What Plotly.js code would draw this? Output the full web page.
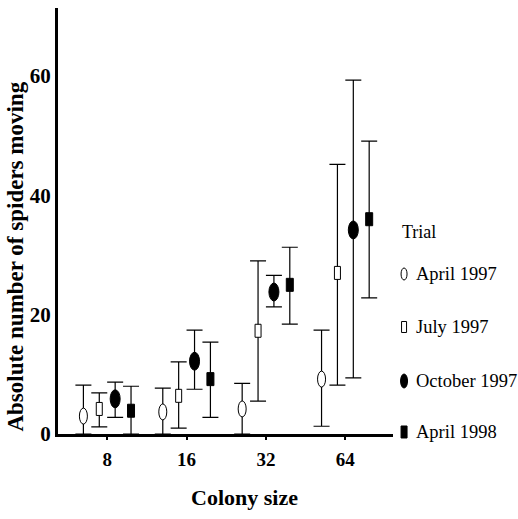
<!DOCTYPE html>
<html>
<head>
<meta charset="utf-8">
<script src="https://cdn.plot.ly/plotly-3.0.1.min.js"></script>
<style>html,body{margin:0;padding:0;background:#fff;}#chart{width:518px;height:519px;}</style>
</head>
<body>
<div id="chart"></div>
<script>
// ---- data ----
const colonySize = [8, 16, 32, 64];
const seriesNames = ['April 1997', 'July 1997', 'October 1997', 'April 1998'];

const apr1997Mean = [3.0, 3.7, 4.2, 9.2];
const apr1997Upper = [8.2, 7.7, 8.5, 17.4];
const apr1997Lower = [0, 0, 0, 1.3];

const jul1997Mean = [4.2, 6.4, 17.3, 27.0];
const jul1997Upper = [6.9, 12.1, 29.0, 45.2];
const jul1997Lower = [1.2, 1.0, 5.5, 8.2];

const oct1997Mean = [5.9, 12.2, 23.8, 34.2];
const oct1997Upper = [8.7, 17.4, 26.6, 59.3];
const oct1997Lower = [2.8, 7.5, 21.3, 9.4];

const apr1998Mean = [3.9, 9.2, 25.0, 36.0];
const apr1998Upper = [8.0, 15.4, 31.3, 49.1];
const apr1998Lower = [0, 2.8, 18.4, 22.8];

const yTicks = [0, 20, 40, 60];

// ---- styling ----
const means = [apr1997Mean, jul1997Mean, oct1997Mean, apr1998Mean];
const uppers = [apr1997Upper, jul1997Upper, oct1997Upper, apr1998Upper];
const lowers = [apr1997Lower, jul1997Lower, oct1997Lower, apr1998Lower];
const offsets = [-0.3, -0.1, 0.1, 0.3];
const styles = [
  {type: 'circle', w: 8, h: 16, fill: 'white', lw: 1, legW: 6, legH: 12},
  {type: 'rect', w: 6, h: 13, fill: 'white', lw: 1, legW: 5, legH: 11},
  {type: 'circle', w: 10, h: 18, fill: 'black', lw: 1, legW: 7, legH: 14},
  {type: 'rect', w: 7, h: 13, fill: 'black', lw: 1, legW: 6, legH: 12}
];

const traces = [];
const shapes = [];
means.forEach((m, s) => {
  const xs = colonySize.map(c => Math.log2(c) + offsets[s]);
  traces.push({
    type: 'scatter', mode: 'markers', name: seriesNames[s],
    x: xs, y: m, showlegend: false, cliponaxis: false,
    marker: {size: 2, color: 'rgba(0,0,0,0)'},
    error_y: {
      type: 'data', symmetric: false,
      array: uppers[s].map((u, i) => u - m[i]),
      arrayminus: lowers[s].map((l, i) => m[i] - l),
      color: 'black', thickness: 1.2, width: 8
    }
  });
  xs.forEach((xv, i) => {
    const st = styles[s];
    shapes.push({
      type: st.type, xref: 'x', yref: 'y',
      xsizemode: 'pixel', ysizemode: 'pixel',
      xanchor: xv, yanchor: m[i],
      x0: -st.w / 2, x1: st.w / 2, y0: -st.h / 2, y1: st.h / 2,
      fillcolor: st.fill, line: {color: 'black', width: st.lw}
    });
  });
});

// legend (drawn as annotations + symbol shapes)
const legY = [0.3756, 0.2512, 0.1244, 0.0047];
const annotations = [];
const serif = 'Liberation Serif, Times New Roman, serif';
annotations.push({xref: 'paper', yref: 'paper', x: 1.021, y: 0.474, xanchor: 'left', yanchor: 'middle',
  text: 'Trial', showarrow: false, font: {family: serif, size: 18, color: 'black'}});
seriesNames.forEach((n, s) => {
  annotations.push({xref: 'paper', yref: 'paper', x: 1.062, y: legY[s], xanchor: 'left', yanchor: 'middle',
    text: n, showarrow: false, font: {family: serif, size: 18.5, color: 'black'}});
  const st = styles[s];
  shapes.push({
    type: st.type, xref: 'paper', yref: 'paper',
    xsizemode: 'pixel', ysizemode: 'pixel',
    xanchor: 1.033, yanchor: legY[s],
    x0: -st.legW / 2, x1: st.legW / 2, y0: -st.legH / 2, y1: st.legH / 2,
    fillcolor: st.fill, line: {color: 'black', width: 1}
  });
});
annotations.push({xref: 'paper', yref: 'paper', x: -0.126, y: 0.416, xanchor: 'center', yanchor: 'middle',
  textangle: -90, text: 'Absolute number of spiders moving', showarrow: false,
  font: {family: serif, size: 23, color: 'black', weight: 'bold'}});
annotations.push({xref: 'paper', yref: 'paper', x: 0.558, y: -0.148, xanchor: 'center', yanchor: 'middle',
  text: 'Colony size', showarrow: false,
  font: {family: serif, size: 22, color: 'black', weight: 'bold'}});

const layout = {
  width: 518, height: 519,
  margin: {l: 58, r: 125, t: 8, b: 85},
  paper_bgcolor: 'white', plot_bgcolor: 'white',
  showlegend: false,
  xaxis: {
    range: [2.38, 6.6], showgrid: false, zeroline: false,
    showline: true, linecolor: 'black', linewidth: 3,
    tickvals: colonySize.map(c => Math.log2(c)), ticktext: colonySize.map(String),
    ticks: 'outside', ticklen: 3, tickwidth: 2, tickcolor: 'black',
    ticklabelstandoff: 3,
    tickfont: {family: serif, size: 19, color: 'black', weight: 'bold'}
  },
  yaxis: {
    range: [0, 71.4], showgrid: false, zeroline: false,
    showline: true, linecolor: 'black', linewidth: 3,
    tickvals: yTicks, ticks: '',
    tickfont: {family: serif, size: 21, color: 'black', weight: 'bold'}
  },
  shapes: shapes,
  annotations: annotations
};

Plotly.newPlot('chart', traces, layout, {displayModeBar: false, staticPlot: true});
</script>
</body>
</html>
